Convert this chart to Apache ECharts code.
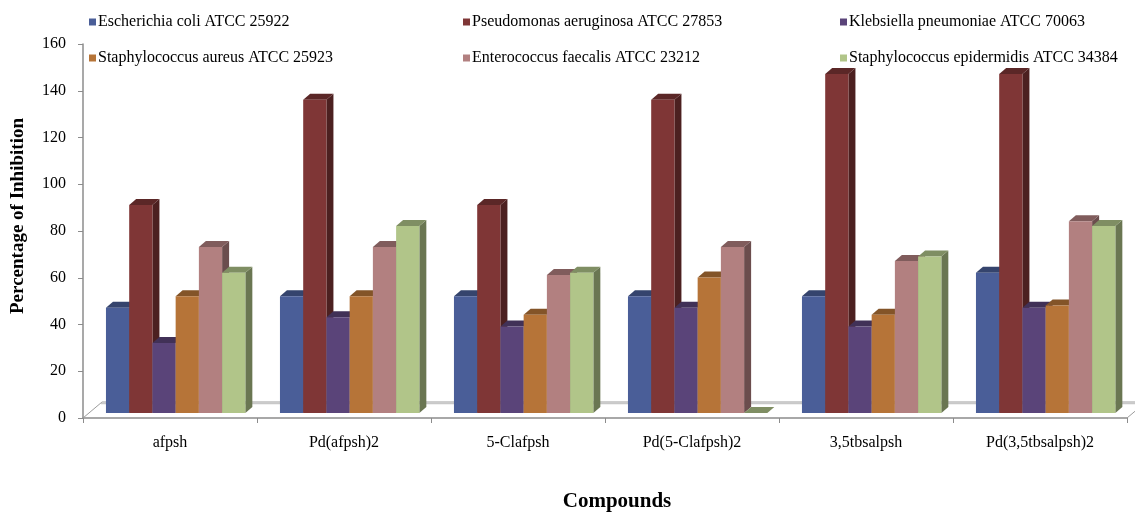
<!DOCTYPE html>
<html>
<head>
<meta charset="utf-8">
<script src="https://cdn.jsdelivr.net/npm/echarts@6/dist/echarts.min.js"></script>
<style>
  html, body { margin: 0; padding: 0; background: #ffffff; }
  #chart { width: 1135px; height: 513px; }
</style>
</head>
<body>
<div id="chart"></div>
<script>
// Compounds tested
const compounds = ['afpsh', 'Pd(afpsh)2', '5-Clafpsh', 'Pd(5-Clafpsh)2', '3,5tbsalpsh', 'Pd(3,5tbsalpsh)2'];

// Percentage of inhibition per strain, in compound order
const ecoli       = [45, 50, 50, 50, 50, 60];
const paeruginosa = [89, 134, 89, 134, 145, 145];
const kpneumoniae = [30, 41, 37, 45, 37, 45];
const saureus     = [50, 50, 42, 58, 42, 46];
const efaecalis   = [71, 71, 59, 71, 65, 82];
const sepidermidis = [60, 80, 60, 0, 67, 80];

const strainNames = [
  'Escherichia coli ATCC 25922',
  'Pseudomonas aeruginosa ATCC 27853',
  'Klebsiella pneumoniae ATCC 70063',
  'Staphylococcus aureus ATCC 25923',
  'Enterococcus faecalis ATCC 23212',
  'Staphylococcus epidermidis ATCC 34384'
];
const strainValues = [ecoli, paeruginosa, kpneumoniae, saureus, efaecalis, sepidermidis];
const strainColors = ['#4A5E98', '#7F3636', '#5A4479', '#B67438', '#B28080', '#B1C589'];

// Y-axis tick range
const yMin = 0, yMax = 160, yStep = 20;

const FONT = 'Liberation Serif';

function shade(hex, f) {
  const n = parseInt(hex.slice(1), 16);
  const r = Math.round(((n >> 16) & 255) * f);
  const g = Math.round(((n >> 8) & 255) * f);
  const b = Math.round((n & 255) * f);
  return 'rgb(' + r + ',' + g + ',' + b + ')';
}

// 3D look: depth offsets of the prism faces, and floor depth
const DX = 7, DY = 6, SINK = 5;
const FLOOR_DX = 19, FLOOR_DY = 16;

function barRenderer(sIdx) {
  return function (params, api) {
    const ci = api.value(0);
    const v = api.value(1);
    const base = api.coord([ci, 0]);
    const top = api.coord([ci, v]);
    const band = api.size([1, 0])[0];
    const w = band * 0.1335;
    const left = base[0] - band / 2 + band * 0.132 + sIdx * w;
    const yb = base[1] - SINK;
    const yt = top[1] - SINK;
    const c = strainColors[sIdx];
    return {
      type: 'group',
      children: [
        { type: 'polygon', shape: { points: [[left + w, yt], [left + w + DX, yt - DY], [left + w + DX, yb - DY], [left + w, yb]] },
          style: { fill: shade(c, 0.6) } },
        { type: 'polygon', shape: { points: [[left, yt], [left + DX, yt - DY], [left + w + DX, yt - DY], [left + w, yt]] },
          style: { fill: shade(c, 0.72) } },
        { type: 'rect', shape: { x: left, y: yt, width: w, height: yb - yt },
          style: { fill: c } }
      ]
    };
  };
}

function floorRenderer(params, api) {
  const p = api.coord([0, 0]);
  const band = api.size([1, 0])[0];
  const x0 = p[0] - band / 2;
  const x1 = x0 + compounds.length * band;
  const y0 = p[1];
  const line = '#9c9c9c';
  return {
    type: 'group',
    children: [
      { type: 'line', shape: { x1: x0, y1: y0, x2: x0 + FLOOR_DX, y2: y0 - FLOOR_DY }, style: { stroke: line, lineWidth: 1 } },
      { type: 'line', shape: { x1: x0 + FLOOR_DX, y1: y0 - FLOOR_DY, x2: x1 + FLOOR_DX, y2: y0 - FLOOR_DY }, style: { stroke: line, lineWidth: 1 } },
      { type: 'line', shape: { x1: x0 + FLOOR_DX - 1, y1: y0 - FLOOR_DY + 1.5, x2: x1 + FLOOR_DX, y2: y0 - FLOOR_DY + 1.5 }, style: { stroke: '#c8c8c8', lineWidth: 1.5 } },
      { type: 'line', shape: { x1: x1, y1: y0, x2: x1 + FLOOR_DX, y2: y0 - FLOOR_DY }, style: { stroke: line, lineWidth: 1 } }
    ]
  };
}

const series = [{
  type: 'custom',
  name: 'floor',
  silent: true,
  renderItem: floorRenderer,
  data: [[0, 0]],
  z: 1
}];
strainNames.forEach(function (name, i) {
  series.push({
    type: 'custom',
    name: name,
    renderItem: barRenderer(i),
    itemStyle: { color: strainColors[i] },
    encode: { x: 0, y: 1 },
    data: strainValues[i].map(function (v, k) { return [k, v]; }),
    z: 2
  });
});

function legendCol(left, names) {
  return {
    orient: 'vertical',
    left: left,
    top: 13,
    padding: 0,
    icon: 'rect',
    itemWidth: 7,
    itemHeight: 7,
    itemGap: 18,
    data: names,
    selectedMode: false,
    textStyle: { fontFamily: FONT, fontSize: 16, color: '#000', lineHeight: 18, padding: [0, 0, 0, -3] }
  };
}

const chart = echarts.init(document.getElementById('chart'), null, { renderer: 'canvas' });
chart.setOption({
  backgroundColor: '#ffffff',
  animation: false,
  legend: [
    legendCol(89, [strainNames[0], strainNames[3]]),
    legendCol(463, [strainNames[1], strainNames[4]]),
    legendCol(840, [strainNames[2], strainNames[5]])
  ],
  grid: { left: 83, right: 8, top: 44, bottom: 95, containLabel: false, outerBoundsMode: 'none' },
  xAxis: {
    type: 'category',
    data: compounds,
    boundaryGap: true,
    name: 'Compounds',
    nameLocation: 'middle',
    nameGap: 73,
    nameTextStyle: { fontFamily: FONT, fontSize: 21, fontWeight: 'bold', color: '#000', padding: [0, 0, 0, 24] },
    axisLine: { show: true, lineStyle: { color: '#8c8c8c', width: 1.5 } },
    axisTick: { show: true, length: 5, lineStyle: { color: '#8c8c8c' } },
    axisLabel: { fontFamily: FONT, fontSize: 16, color: '#000', margin: 17 }
  },
  yAxis: {
    type: 'value',
    min: yMin,
    max: yMax,
    interval: yStep,
    name: 'Percentage of Inhibition',
    nameLocation: 'middle',
    nameGap: 55,
    nameTextStyle: { fontFamily: FONT, fontSize: 19, fontWeight: 'bold', color: '#000', padding: [0, 0, 0, 30] },
    axisLine: { show: true, lineStyle: { color: '#8c8c8c', width: 1.5 } },
    axisTick: { show: true, length: 5, lineStyle: { color: '#8c8c8c' } },
    axisLabel: { fontFamily: FONT, fontSize: 16, color: '#000', margin: 17 },
    splitLine: { show: false }
  },
  series: series
});
</script>
</body>
</html>
